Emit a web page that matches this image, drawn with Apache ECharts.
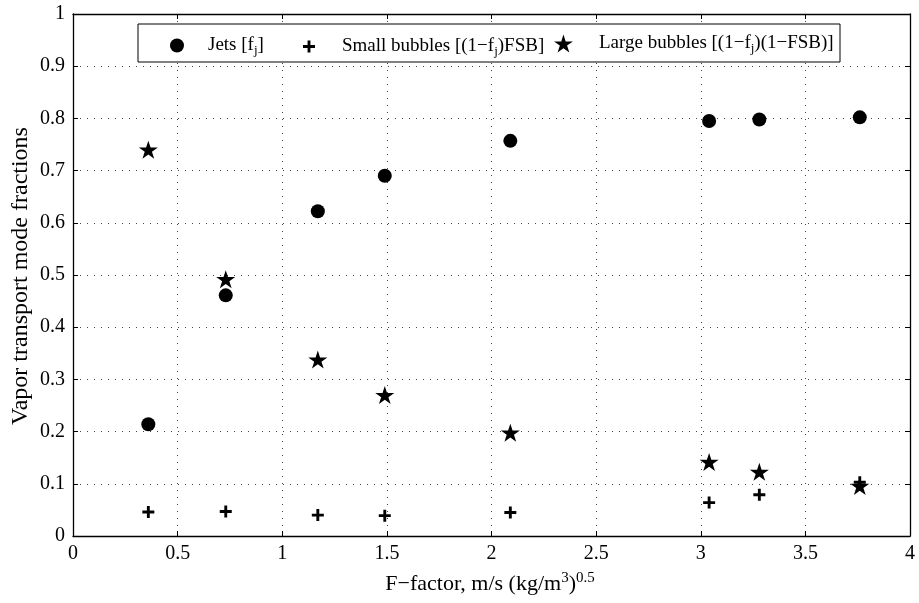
<!DOCTYPE html>
<html>
<head>
<meta charset="utf-8">
<script src="https://cdn.jsdelivr.net/npm/echarts@6/dist/echarts.min.js"></script>
<style>html,body{margin:0;padding:0;background:#fff;}#c{width:919px;height:603px;}</style>
</head>
<body>
<div id="c"></div>
<script>
// ---- data ----
const fFactor = [0.36, 0.73, 1.17, 1.49, 2.09, 3.04, 3.28, 3.76];
const jets = [0.214, 0.461, 0.622, 0.690, 0.757, 0.795, 0.798, 0.802];
const smallBubbles = [0.046, 0.047, 0.040, 0.039, 0.045, 0.064, 0.079, 0.103];
const largeBubbles = [0.740, 0.492, 0.338, 0.270, 0.198, 0.142, 0.123, 0.096];
const seriesNames = ['Jets', 'Small bubbles', 'Large bubbles'];
const legendLabels = ['Jets [f{sub|j}]', 'Small bubbles [(1\u2212f{sub|j})FSB]', 'Large bubbles [(1\u2212f{sub|j})(1\u2212FSB)]'];

const FONT = 'Liberation Serif';
const plusPath = 'path://M-12,-50 L12,-50 L12,-12 L50,-12 L50,12 L12,12 L12,50 L-12,50 L-12,12 L-50,12 L-50,-12 L-12,-12 Z';
const starPath = 'path://M0,-100 L22.45,-30.9 L95.1,-30.9 L36.3,11.8 L58.8,80.9 L0,38.2 L-58.8,80.9 L-36.3,11.8 L-95.1,-30.9 L-22.45,-30.9 Z';

const zip = (xs, ys) => xs.map((x, i) => [x, ys[i]]);
const chart = echarts.init(document.getElementById('c'), null, {renderer: 'canvas'});

const gridLine = {show: true, lineStyle: {color: '#444', width: 1, type: [1, 6]}};
const axisLine = {show: true, onZero: false, lineStyle: {color: '#000', width: 1.3}};
const tick = {show: true, inside: true, length: 5, lineStyle: {color: '#000'}};
const labelStyle = {fontFamily: FONT, fontSize: 20, color: '#000'};
const rich = {sub: {fontFamily: FONT, fontSize: 13, color: '#000', padding: [10, 0, 0, 0]}};

function legend(i, left, gap, w, h) {
  return {
    data: [seriesNames[i]], left: left, top: 43 - h / 2, padding: 0, itemGap: 0,
    itemWidth: w, itemHeight: h,
    formatter: () => legendLabels[i], selectedMode: false, z: 10,
    itemStyle: {opacity: 1},
    textStyle: {fontFamily: FONT, fontSize: 19, color: '#000', padding: [0, 0, 0, gap], rich: rich}
  };
}

chart.setOption({
  animation: false,
  backgroundColor: '#fff',
  grid: {left: 73, right: 9, top: 14, bottom: 67, containLabel: false},
  xAxis: [
    {type: 'value', min: 0, max: 4, interval: 0.5, position: 'bottom',
     axisLine: axisLine, axisTick: tick, splitLine: gridLine,
     axisLabel: Object.assign({margin: 8}, labelStyle)},
    {type: 'value', min: 0, max: 4, interval: 0.5, position: 'top',
     axisLine: axisLine, axisTick: tick, splitLine: {show: false}, axisLabel: {show: false}}
  ],
  yAxis: [
    {type: 'value', min: 0, max: 1, interval: 0.1, position: 'left',
     axisLine: axisLine, axisTick: tick, splitLine: gridLine,
     axisLabel: Object.assign({margin: 8}, labelStyle)},
    {type: 'value', min: 0, max: 1, interval: 0.1, position: 'right',
     axisLine: axisLine, axisTick: tick, splitLine: {show: false}, axisLabel: {show: false}}
  ],
  legend: [legend(0, 170, 19, 14, 14), legend(1, 303, 22, 12, 12), legend(2, 554, 21, 19, 18)],
  graphic: [
    {type: 'rect', shape: {x: 138, y: 24, width: 702, height: 38}, z: 5,
     style: {fill: '#fff', stroke: '#000', lineWidth: 1}},
    {type: 'text', x: 21, y: 276, rotation: Math.PI / 2, z: 5,
     style: {text: 'Vapor transport mode fractions', fontFamily: FONT, fontSize: 24, fill: '#000', align: 'center', verticalAlign: 'middle'}},
    {type: 'text', x: 490, y: 584, z: 5,
     style: {text: 'F\u2212factor, m/s (kg/m{sup|3}){sup|0.5}', fontFamily: FONT, fontSize: 22, fill: '#000', align: 'center', verticalAlign: 'middle',
       rich: {sup: {fontFamily: FONT, fontSize: 15, fill: '#000', padding: [0, 0, 12, 0]}}}}
  ],
  series: [
    {name: seriesNames[0], type: 'scatter', data: zip(fFactor, jets), symbol: 'circle', symbolSize: 14,
     itemStyle: {color: '#000', opacity: 1}, z: 3},
    {name: seriesNames[1], type: 'scatter', data: zip(fFactor, smallBubbles), symbol: plusPath, symbolSize: 12,
     itemStyle: {color: '#000', opacity: 1}, z: 3},
    {name: seriesNames[2], type: 'scatter', data: zip(fFactor, largeBubbles), symbol: starPath, symbolSize: [19, 18],
     itemStyle: {color: '#000', opacity: 1}, z: 3}
  ]
});
</script>
</body>
</html>
